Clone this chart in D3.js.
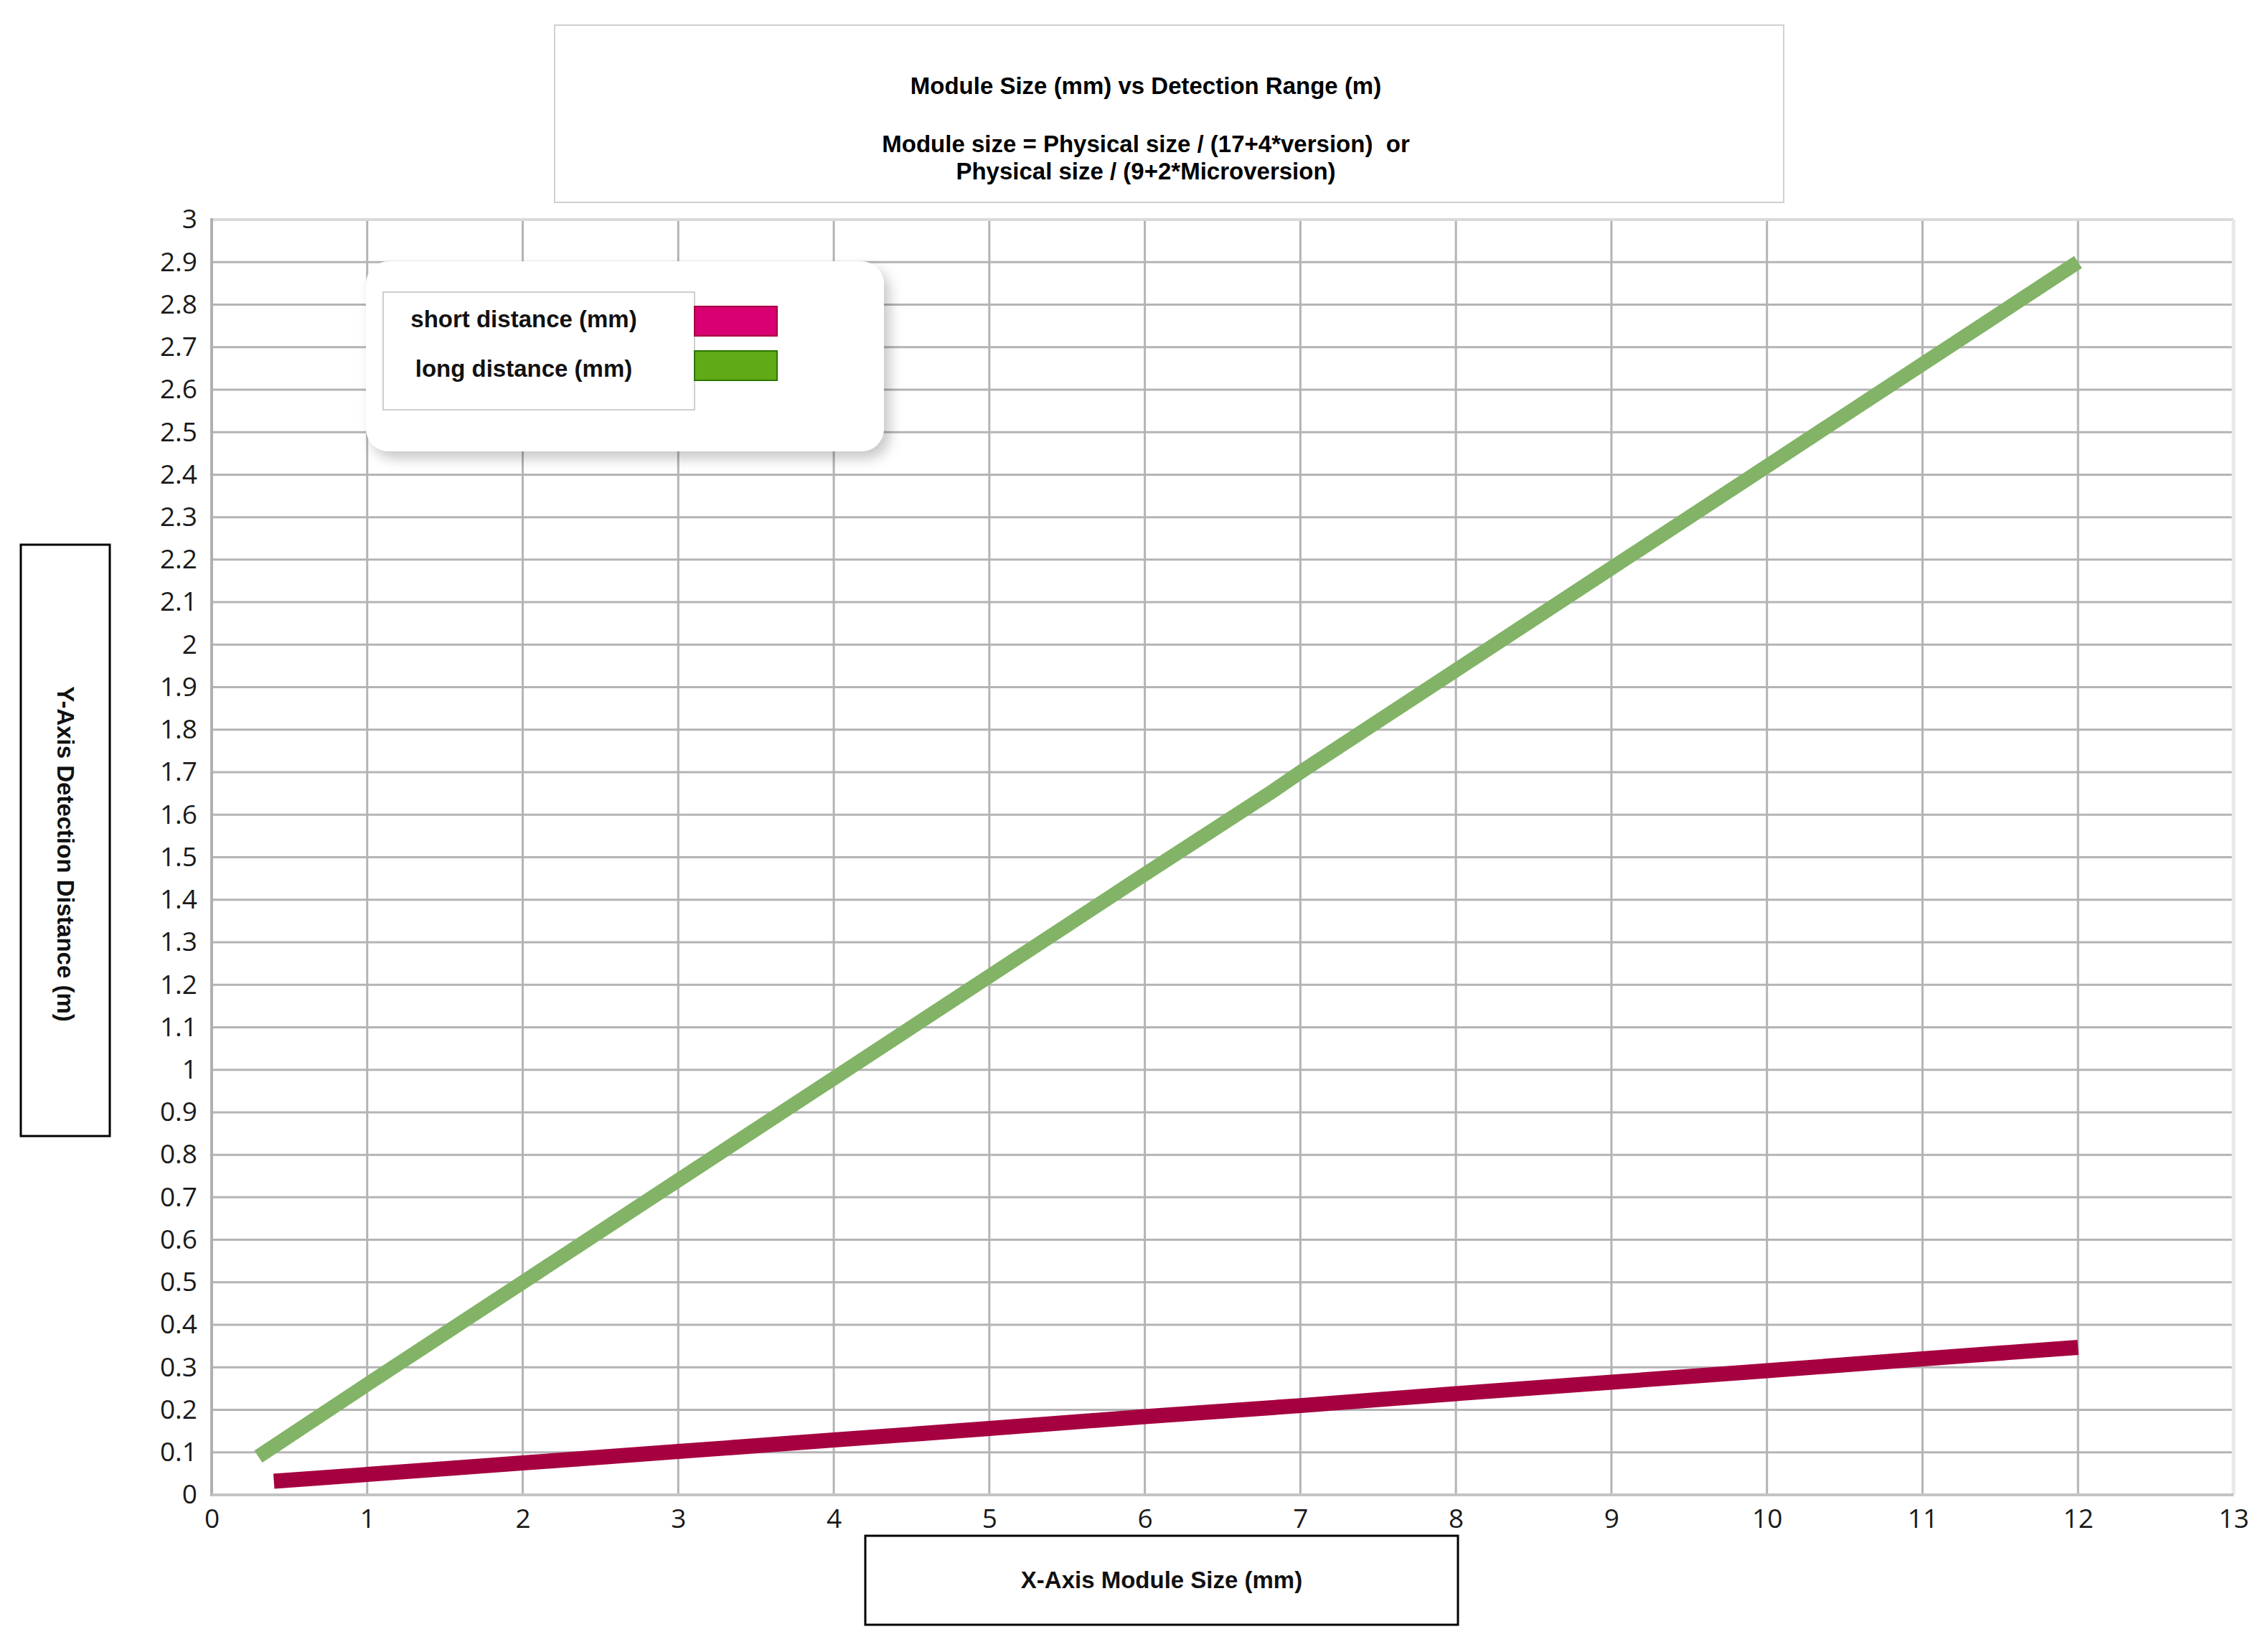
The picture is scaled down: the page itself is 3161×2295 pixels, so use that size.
<!DOCTYPE html>
<html><head><meta charset="utf-8">
<script src="https://cdn.jsdelivr.net/npm/d3@7"></script>
<style>
html,body{margin:0;padding:0;background:#fff;}
svg{display:block;}
</style></head>
<body>
<script>
// ---- data ----
const xTickValues = [0,1,2,3,4,5,6,7,8,9,10,11,12,13];
const yTickValues = [0,0.1,0.2,0.3,0.4,0.5,0.6,0.7,0.8,0.9,1,1.1,1.2,1.3,1.4,1.5,1.6,1.7,1.8,1.9,2,2.1,2.2,2.3,2.4,2.5,2.6,2.7,2.8,2.9,3];
const yTickLabels = ["0","0.1","0.2","0.3","0.4","0.5","0.6","0.7","0.8","0.9","1","1.1","1.2","1.3","1.4","1.5","1.6","1.7","1.8","1.9","2","2.1","2.2","2.3","2.4","2.5","2.6","2.7","2.8","2.9","3"];
const longX  = [0.3, 1, 2, 3, 4, 5, 5.5, 6, 6.8, 7, 8, 9, 10, 11, 12];
const longY  = [0.09, 0.26, 0.5, 0.74, 0.98, 1.22, 1.34, 1.46, 1.65, 1.70, 1.94, 2.18, 2.42, 2.66, 2.9];
const shortX = [0.4, 1, 2, 3, 4, 5, 6, 7, 8, 9, 10, 11, 12];
const shortY = [0.032, 0.048, 0.075, 0.102, 0.129, 0.156, 0.184, 0.21, 0.238, 0.265, 0.292, 0.32, 0.347];
const seriesNames = ["short distance (mm)", "long distance (mm)"];
const titleLines = ["Module Size (mm) vs Detection Range (m)", "Module size = Physical size / (17+4*version)\u00a0 or", "Physical size / (9+2*Microversion)"];
const xTitle = "X-Axis Module Size (mm)";
const yTitle = "Y-Axis Detection Distance (m)";

// ---- layout ----
const W = 3161, H = 2295;
const L = 295, R = 3113, T = 306, B = 2083;

const svg = d3.select("body").append("svg").attr("width", W).attr("height", H);
const defs = svg.append("defs");
const f = defs.append("filter").attr("id","shadow").attr("x","-10%").attr("y","-10%").attr("width","130%").attr("height","140%");
f.append("feDropShadow").attr("dx",8).attr("dy",10).attr("stdDeviation",9).attr("flood-color","#000").attr("flood-opacity",0.22);

const x = d3.scaleLinear().domain([0,13]).range([L,R]);
const y = d3.scaleLinear().domain([0,3]).range([B,T]);

// grid
const g = svg.append("g");
g.selectAll("line.h").data(yTickValues.slice(1,-1)).join("line")
  .attr("x1",L).attr("x2",R).attr("y1",d=>y(d)).attr("y2",d=>y(d))
  .attr("stroke","#b4b4b4").attr("stroke-width",3);
g.selectAll("line.v").data(xTickValues.slice(1,-1)).join("line")
  .attr("y1",T).attr("y2",B).attr("x1",d=>x(d)).attr("x2",d=>x(d))
  .attr("stroke","#b4b4b4").attr("stroke-width",3);
g.append("line").attr("x1",L).attr("x2",R).attr("y1",T).attr("y2",T).attr("stroke","#d9d9d9").attr("stroke-width",4);
g.append("line").attr("x1",R).attr("x2",R).attr("y1",T).attr("y2",B).attr("stroke","#e8e8e8").attr("stroke-width",5);
g.append("line").attr("x1",L).attr("x2",L).attr("y1",T-2).attr("y2",B+2).attr("stroke","#b0b0b0").attr("stroke-width",4);
g.append("line").attr("x1",L).attr("x2",R).attr("y1",B).attr("y2",B).attr("stroke","#c4c4c4").attr("stroke-width",4);

// tick labels via d3 axes
const yAxis = d3.axisLeft(y).tickValues(yTickValues).tickSize(0).tickPadding(0)
  .tickFormat((d,i)=>yTickLabels[i]);
const ya = svg.append("g").attr("transform",`translate(${L-20},0)`).call(yAxis);
ya.select(".domain").remove();
ya.selectAll("text").attr("font-family","'Open Sans', sans-serif").attr("font-size",37).attr("fill","#1a1a1a").attr("dy","0.32em");

const xAxis = d3.axisBottom(x).tickValues(xTickValues).tickSize(0).tickPadding(0).tickFormat(d=>String(d));
const xa = svg.append("g").attr("transform",`translate(0,${B+20})`).call(xAxis);
xa.select(".domain").remove();
xa.selectAll("text").attr("font-family","'Open Sans', sans-serif").attr("font-size",37).attr("fill","#1a1a1a").attr("dy","0.71em");

// lines
const lineGen = d3.line().x(d=>x(d[0])).y(d=>y(d[1]));
svg.append("path").datum(shortX.map((v,i)=>[v,shortY[i]]))
  .attr("d",lineGen).attr("fill","none").attr("stroke","#a50040").attr("stroke-width",21).attr("stroke-linejoin","round");
svg.append("path").datum(longX.map((v,i)=>[v,longY[i]]))
  .attr("d",lineGen).attr("fill","none").attr("stroke","#82b366").attr("stroke-width",20).attr("stroke-linejoin","round");

// title box
svg.append("rect").attr("x",773).attr("y",35).attr("width",1713).attr("height",247)
  .attr("fill","#fff").attr("stroke","#d0d0d0").attr("stroke-width",2);
const tf = "'Liberation Sans', Arial, sans-serif";
[[titleLines[0],119],[titleLines[1],200],[titleLines[2],238]].forEach(([t,yy])=>{
  svg.append("text").attr("x",1597).attr("y",yy).attr("text-anchor","middle").attr("dominant-baseline","central")
    .attr("font-family",tf).attr("font-weight","bold").attr("font-size",33).attr("fill","#000").text(t);
});

// legend
svg.append("rect").attr("x",510).attr("y",364).attr("width",722).attr("height",265).attr("rx",32)
  .attr("fill","#fff").attr("filter","url(#shadow)");
svg.append("rect").attr("x",534).attr("y",407).attr("width",434).attr("height",164)
  .attr("fill","#fff").attr("stroke","#cfcfcf").attr("stroke-width",2);
svg.append("rect").attr("x",968).attr("y",427).attr("width",115).attr("height",41)
  .attr("fill","#d80073").attr("stroke","#a50040").attr("stroke-width",2);
svg.append("rect").attr("x",968).attr("y",489).attr("width",115).attr("height",41)
  .attr("fill","#60a917").attr("stroke","#2d7600").attr("stroke-width",2);
svg.append("text").attr("x",730).attr("y",444).attr("text-anchor","middle").attr("dominant-baseline","central")
  .attr("font-family",tf).attr("font-weight","bold").attr("font-size",33).attr("fill","#111").text(seriesNames[0]);
svg.append("text").attr("x",730).attr("y",513).attr("text-anchor","middle").attr("dominant-baseline","central")
  .attr("font-family",tf).attr("font-weight","bold").attr("font-size",33).attr("fill","#111").text(seriesNames[1]);

// y title box
svg.append("rect").attr("x",29).attr("y",759).attr("width",124).attr("height",824)
  .attr("fill","#fff").attr("stroke","#000").attr("stroke-width",3);
svg.append("text").attr("transform","translate(91,1190) rotate(90)").attr("text-anchor","middle").attr("dominant-baseline","central")
  .attr("font-family",tf).attr("font-weight","bold").attr("font-size",33).attr("fill","#111").text(yTitle);

// x title box
svg.append("rect").attr("x",1206).attr("y",2140).attr("width",826).attr("height",124)
  .attr("fill","#fff").attr("stroke","#000").attr("stroke-width",3);
svg.append("text").attr("x",1619).attr("y",2201).attr("text-anchor","middle").attr("dominant-baseline","central")
  .attr("font-family",tf).attr("font-weight","bold").attr("font-size",33).attr("fill","#111").text(xTitle);
</script>
</body></html>
